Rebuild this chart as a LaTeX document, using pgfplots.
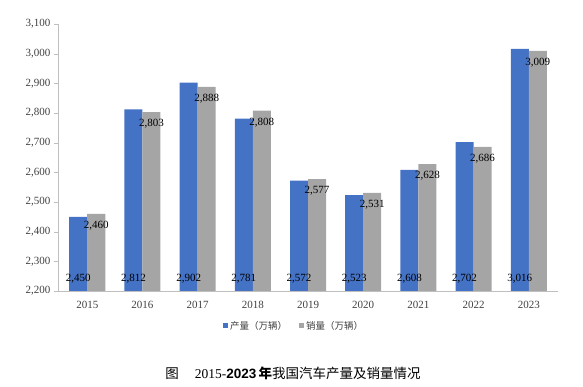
\documentclass[border=0pt]{standalone}
\usepackage{fontspec}
\setmainfont{Liberation Serif}
\newfontfamily\cjk{Noto Sans CJK SC}
\newfontfamily\hei{Liberation Sans}
\usepackage{pgfplots}
\pgfplotsset{compat=1.18}
\definecolor{cblue}{HTML}{4472C4}
\definecolor{cgray}{HTML}{A5A5A5}
\definecolor{axgray}{HTML}{BFBFBF}
\definecolor{txtgray}{HTML}{404040}
\begin{document}
\begin{tikzpicture}[x=1pt,y=1pt]
\path (0,0) rectangle (583,387);
\begin{axis}[at={(58pt,96pt)}, anchor=south west, scale only axis,
  width=500pt, height=267pt,
  ybar=0pt, bar width=18pt,
  xmin=-0.53, xmax=8.53, ymin=2200, ymax=3100,
  xtick={0,1,2,3,4,5,6,7,8},
  xticklabels={2015,2016,2017,2018,2019,2020,2021,2022,2023},
  ytick={2200,2300,2400,2500,2600,2700,2800,2900,3000,3100},
  axis x line*=bottom, axis y line*=left,
  x axis line style={axgray}, y axis line style={axgray},
  xtick style={draw=none}, ytick style={axgray}, tick align=outside, major tick length=4pt,
  /pgf/number format/1000 sep={,},
  /pgf/number format/assume math mode=true,
  ticklabel style={font=\fontsize{11}{12}\selectfont, text=txtgray},
  xticklabel style={yshift=-3pt},
  legend style={at={(0.472,-0.131)}, anchor=center, draw=none,
    legend columns=2, font=\cjk\fontsize{9.5}{11}\selectfont, text=txtgray,
    /tikz/every even column/.append style={column sep=10pt}},
  legend image code/.code={\path[#1] (0pt,-2.5pt) rectangle (5pt,2.5pt);},
  nodes near coords,
  every node near coord/.append style={font=\fontsize{11}{12}\selectfont, text=black},
]
\addplot[fill=cblue, draw=none,
  visualization depends on={rawy \as \ry},
  every node near coord/.append style={anchor=center, yshift={(12-(\ry-2200)*0.296667)*1pt}}]
  coordinates {(0,2450) (1,2812) (2,2902) (3,2781) (4,2572) (5,2523) (6,2608) (7,2702) (8,3016)};
\addplot[fill=cgray, draw=none,
  every node near coord/.append style={anchor=center, yshift=-12pt}]
  coordinates {(0,2460) (1,2803) (2,2888) (3,2808) (4,2577) (5,2531) (6,2628) (7,2686) (8,3009)};
\legend{产量（万辆）,销量（万辆）}
\end{axis}
\node[font=\fontsize{13.5}{15}\selectfont] at (293,14)
  {{\cjk 图}\hspace{1.2em}2015-{\hei\bfseries 2023}\,{\cjk\bfseries 年}{\cjk 我国汽车产量及销量情况}};
\end{tikzpicture}
\end{document}
